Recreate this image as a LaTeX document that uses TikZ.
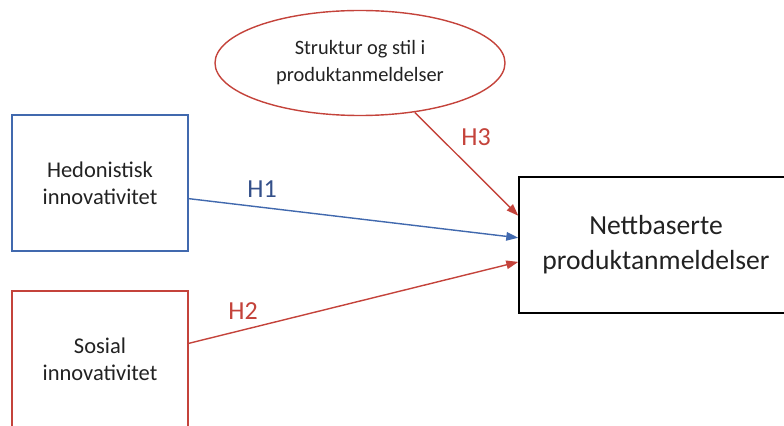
\documentclass[tikz,border=0pt]{standalone}
\usepackage{fontspec}
\setmainfont{Carlito}
\usepackage{xcolor}
\usepackage{tikz}
\usetikzlibrary{arrows.meta, positioning, shapes.geometric}

\definecolor{hedblue}{HTML}{4169AE}
\definecolor{labblue}{HTML}{34508A}
\definecolor{socred}{HTML}{C4433B}
\definecolor{txtgray}{HTML}{222222}

\begin{document}
\begin{tikzpicture}[>={Triangle[length=2.4mm, width=1.7mm]},
    font=\fontsize{12.8}{15.4}\selectfont, text=txtgray,
    varbox/.style={draw, line width=0.8pt, minimum width=3.52cm, minimum height=2.72cm, align=center, inner sep=0pt},
    hyplabel/.style={font=\fontsize{14.8}{17}\selectfont},
    link/.style={->, line width=0.8pt}]

% Frame
\useasboundingbox (0, 0) rectangle (15.68, -8.52);

% Independent variables (left)
\node[varbox, hedblue] (hed) at (2.0, -3.66)
    {\textcolor{txtgray}{Hedonistisk}\\\textcolor{txtgray}{innovativitet}};
\node[varbox, socred] (sos) at (2.0, -7.18)
    {\textcolor{txtgray}{Sosial}\\\textcolor{txtgray}{innovativitet}};

% Moderator (top)
\node[ellipse, draw=socred, line width=0.8pt, minimum width=5.8cm, minimum height=2.1cm,
      inner sep=0pt, align=center, font=\fontsize{11.6}{15.4}\selectfont] (ell) at (7.2, -1.26)
    {Struktur og stil i\\produktanmeldelser};

% Dependent variable (right)
\node[varbox, draw=black, minimum width=5.48cm, font=\fontsize{15.7}{19.9}\selectfont] (tgt) at (13.12, -4.9)
    {Nettbaserte\\produktanmeldelser};

% Hypotheses
\draw[link, hedblue] (hed.-10) -- (tgt.177);
\draw[link, socred] (sos.10) -- (tgt.187);
\draw[link, socred] (ell.-42) -- (tgt.168);

\node[hyplabel, text=labblue] (h1) at (5.24, -3.78) {H1};
\node[hyplabel, text=socred] (h2) at (4.86, -6.22) {H2};
\node[hyplabel, text=socred] (h3) at (9.52, -2.74) {H3};

\end{tikzpicture}
\end{document}
